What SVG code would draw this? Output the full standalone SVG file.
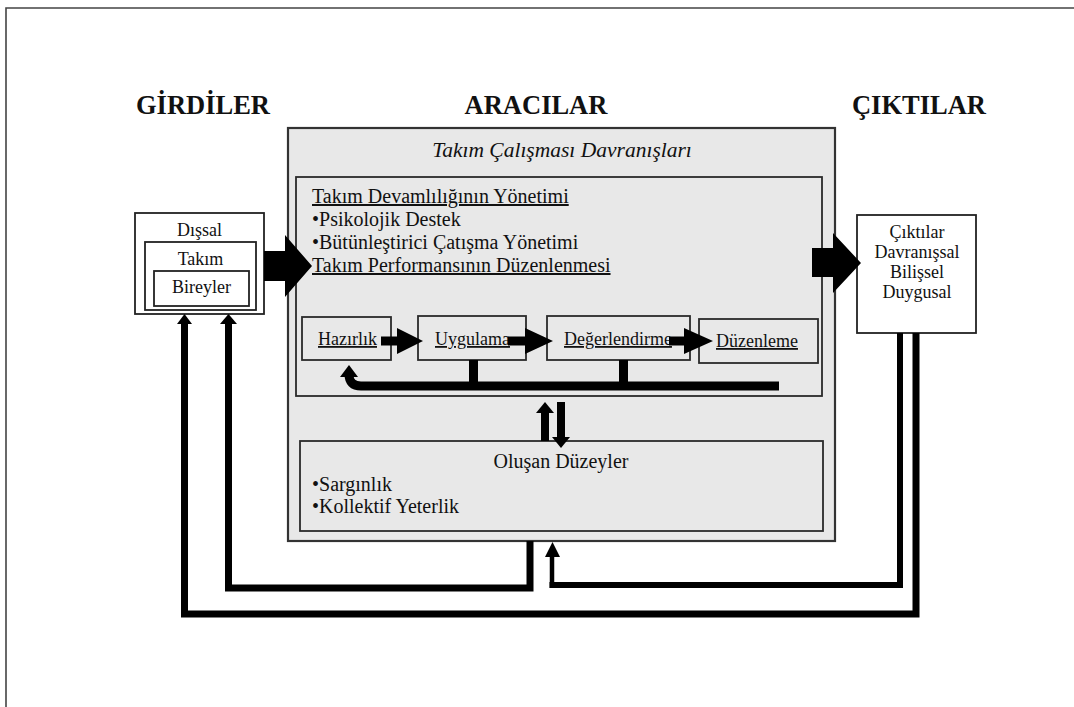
<svg xmlns="http://www.w3.org/2000/svg" width="1074" height="707" viewBox="0 0 1074 707">
  <style>
    .serif { font-family: "Liberation Serif", "Times New Roman", serif; fill: #111; }
    .head { font-weight: bold; font-size: 26.5px; text-anchor: middle; }
    .box-w { fill: #ffffff; stroke: #222; stroke-width: 1.8; }
    .box-g { fill: #e8e8e8; stroke: #2a2a2a; stroke-width: 1.8; }
    .main { fill: #e8e8e8; stroke: #333; stroke-width: 2.2; }
    .t18 { font-size: 18px; }
    .t20 { font-size: 20px; }
    .mid { text-anchor: middle; }
    .ul { text-decoration: underline; }
    .loop { fill: none; stroke: #000; stroke-linejoin: miter; }
    .solid { fill: #000; }
  </style>

  <!-- page frame (left and top rule only) -->
  <path d="M6 707 V8 H1074" fill="none" stroke="#444" stroke-width="1.6"/>

  <!-- column headings -->
  <g id="headings" class="serif head">
    <text x="203" y="114">GİRDİLER</text>
    <text x="536" y="114">ARACILAR</text>
    <text x="919" y="114">ÇIKTILAR</text>
  </g>

  <!-- inputs: nested context boxes -->
  <g id="node-inputs">
    <rect class="box-w" x="135" y="213" width="129" height="101"/>
    <rect class="box-w" x="145" y="242" width="111" height="68"/>
    <rect class="box-w" x="154" y="271" width="95" height="35"/>
    <text class="serif t18 mid" x="199.5" y="236">Dışsal</text>
    <text class="serif t18 mid" x="200.5" y="265">Takım</text>
    <text class="serif t18 mid" x="201.5" y="293">Bireyler</text>
  </g>

  <!-- mediators: teamwork behaviours -->
  <g id="node-mediators">
    <rect class="main" x="288" y="128" width="547" height="413"/>
    <text class="serif mid" x="562" y="157" font-size="21.5" font-style="italic">Takım Çalışması Davranışları</text>
  </g>

  <g id="node-behaviours">
    <rect class="box-g" x="296" y="177" width="526" height="219"/>
    <text class="serif t20 ul" x="312" y="203">Takım Devamlılığının Yönetimi</text>
    <text class="serif t20" x="312" y="226">•Psikolojik Destek</text>
    <text class="serif t20" x="312" y="249">•Bütünleştirici Çatışma Yönetimi</text>
    <text class="serif t20 ul" x="312" y="272">Takım Performansının Düzenlenmesi</text>
  </g>

  <g id="node-hazirlik">
    <rect class="box-g" x="302" y="317" width="89" height="43"/>
    <text class="serif t18 ul" x="318" y="345">Hazırlık</text>
  </g>
  <g id="node-uygulama">
    <rect class="box-g" x="418" y="316" width="108" height="44"/>
    <text class="serif t18 ul" x="435" y="345">Uygulama</text>
  </g>
  <g id="node-degerlendirme">
    <rect class="box-g" x="547" y="316" width="143" height="44"/>
    <text class="serif t18 ul" x="564" y="345">Değerlendirme</text>
  </g>
  <g id="node-duzenleme">
    <rect class="box-g" x="699" y="319" width="119" height="44"/>
    <text class="serif t18 ul" x="716" y="347">Düzenleme</text>
  </g>

  <g id="node-emergent">
    <rect class="box-g" x="300" y="441" width="523" height="90"/>
    <text class="serif t20 mid" x="561" y="468">Oluşan Düzeyler</text>
    <text class="serif t20" x="312" y="491">•Sargınlık</text>
    <text class="serif t20" x="312" y="513">•Kollektif Yeterlik</text>
  </g>

  <!-- outputs -->
  <g id="node-outputs">
    <rect class="box-w" x="857" y="215" width="119" height="118"/>
    <text class="serif t18 mid" x="917" y="238">Çıktılar</text>
    <text class="serif t18 mid" x="917" y="258">Davranışsal</text>
    <text class="serif t18 mid" x="917" y="278">Bilişsel</text>
    <text class="serif t18 mid" x="917" y="298">Duygusal</text>
  </g>

  <g id="connectors">
    <!-- block arrows between the three columns -->
    <polygon class="solid" points="264,251 285,251 285,235 312,266 285,297 285,281 264,281"/>
    <polygon class="solid" points="812,248 833,248 833,233 861,263 833,293 833,277 812,277"/>

    <!-- performance cycle arrows -->
    <polygon class="solid" points="381,336.5 397,336.5 397,328 423,341 397,354 397,345.5 381,345.5"/>
    <polygon class="solid" points="508,336.5 525,336.5 525,328 553,341 525,354 525,345.5 508,345.5"/>
    <polygon class="solid" points="669,336.5 684,336.5 684,328 713,341 684,354 684,345.5 669,345.5"/>

    <!-- cycle feedback to preparation -->
    <rect class="solid" x="469" y="360" width="9" height="26"/>
    <rect class="solid" x="619" y="360" width="9" height="26"/>
    <path class="loop" d="M779 386 H361 Q349 386 349 374 V375" stroke-width="9"/>
    <polygon class="solid" points="340,377 358,377 349,365"/>

    <!-- exchange between behaviours and emergent states -->
    <rect class="solid" x="541" y="412" width="8" height="29"/>
    <polygon class="solid" points="536,413 554,413 545,402"/>
    <rect class="solid" x="557" y="402" width="8" height="36"/>
    <polygon class="solid" points="552,437 570,437 561,448"/>

    <!-- feedback loops back to the inputs and mediators -->
    <path class="loop" d="M530 541 V588 H228.5 V323" stroke-width="7"/>
    <polygon class="solid" points="220,324 237,324 228.5,314"/>
    <path class="loop" d="M916 333 V614 H184.5 V323" stroke-width="7"/>
    <polygon class="solid" points="177,324 192,324 184.5,314"/>
    <path class="loop" d="M900 333 V585 H549.5" stroke-width="6"/>
    <path class="loop" d="M552 588 V556" stroke-width="4.5"/>
    <polygon class="solid" points="545,557 560,557 552.5,542"/>
  </g>
</svg>
